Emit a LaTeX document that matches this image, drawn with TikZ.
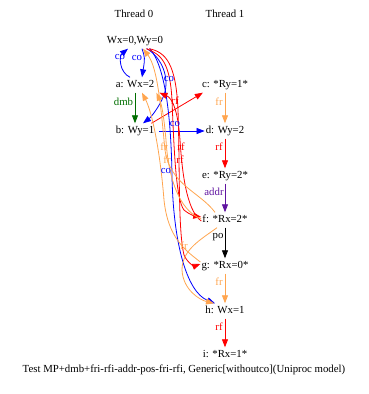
\documentclass[tikz,border=0pt]{standalone}
\usepackage{fontspec}
\setmainfont{Liberation Serif}
\usetikzlibrary{arrows.meta}
\definecolor{frc}{RGB}{255,165,79}
\definecolor{dmbc}{RGB}{0,110,0}
\definecolor{addrc}{RGB}{95,20,160}
\begin{document}
\begin{tikzpicture}[x=1pt,y=-1pt,
  font=\fontsize{10.8}{12}\selectfont,
  ev/.style={inner xsep=1pt, inner ysep=3pt, text height=7pt, text depth=2pt},
  lab/.style={inner sep=0pt},
  edge/.style={line width=0.8pt, -{Triangle[length=8pt,width=6pt]}},
  coe/.style={edge, draw=blue},
  rfe/.style={edge, draw=red},
  fre/.style={edge, draw=frc},
  dmbe/.style={edge, draw=dmbc},
  addre/.style={edge, draw=addrc},
  poe/.style={edge, draw=black}]
\useasboundingbox (0,0) rectangle (369,394);
% thread titles
\node[lab] (t0) at (134,14) {Thread 0};
\node[lab] (t1) at (225,14) {Thread 1};
% events
\node[ev] (init) at (135,41) {Wx=0,Wy=0};
\node[ev] (a) at (135,85) {a: Wx=2};
\node[ev] (b) at (135,131) {b: Wy=1};
\node[ev] (c) at (225,85) {c: *Ry=1*};
\node[ev] (d) at (225,131) {d: Wy=2};
\node[ev] (e) at (225,176) {e: *Ry=2*};
\node[ev] (f) at (225,220) {f: *Rx=2*};
\node[ev] (g) at (225,266) {g: *Rx=0*};
\node[ev] (h) at (225,311) {h: Wx=1};
\node[ev] (i) at (225,355) {i: *Rx=1*};
\node[lab] (cap) at (184,370) {Test MP+dmb+fri-rfi-addr-pos-fri-rfi, Generic[withoutco](Uniproc model)};
% straight edges
\draw[dmbe] (a) -- (b);
\draw[fre] (c) -- (d);
\draw[rfe] (d) -- (e);
\draw[addre] (e) -- (f);
\draw[poe] (f) -- (g);
\draw[fre] (g) -- (h);
\draw[rfe] (h) -- (i);
\draw[coe] ([xshift=4pt]b.east) -- (d.west);
\draw[rfe] ([xshift=-4pt]b.north east) -- ([xshift=2pt]c.south west);
% co curves
\draw[coe] ([xshift=-5pt]a.north) .. controls (119,72) and (119,56) .. ([xshift=-7pt]init.south);
\draw[coe] ([xshift=7pt]init.south) .. controls (145,58) .. ([xshift=7pt]a.north);
\draw[coe] ([xshift=12pt]init.south) .. controls (162,58) and (170,78) .. (164,95) .. controls (159,108) and (150,118) .. ([xshift=8pt]b.north);
\draw[coe] ([xshift=15pt]init.south) .. controls (166,68) and (171,120) .. (172,175) .. controls (173,240) and (186,292) .. ([xshift=-10pt]h.north);
% rf curves
\draw[rfe] ([xshift=11pt]init.south) .. controls (162,54) and (170,64) .. (172,100) .. controls (174,150) and (176,200) .. (184,210) .. controls (190,215) and (195,216) .. ([yshift=3pt]f.west);
\draw[rfe] ([xshift=14pt]init.south) .. controls (166,52) and (176,64) .. (178,110) .. controls (180,170) and (178,230) .. (184,255) .. controls (188,264) and (195,266) .. ([yshift=2pt]g.west);
\draw[rfe] ([yshift=-1pt]f.west) .. controls (186,210) and (182,170) .. (180,140) .. controls (178,110) and (172,98) .. ([xshift=4pt]a.south east);
% fr curves
\draw[fre] ([xshift=-10pt]f.north) .. controls (200,192) and (170,185) .. (165,150) .. controls (161,110) and (158,68) .. ([xshift=8pt]init.south);
\draw[fre] ([yshift=1pt]f.west) .. controls (178,210) and (168,175) .. (166,140) .. controls (164,118) and (162,105) .. ([xshift=1pt]a.south east);
\draw[fre] ([yshift=4pt]g.west) .. controls (185,250) and (168,238) .. (164,200) .. controls (160,150) and (152,112) .. ([xshift=7pt]a.south);
\draw[fre] ([xshift=-8pt]f.south) .. controls (200,240) and (182,250) .. (182,270) .. controls (183,290) and (200,300) .. ([xshift=-11pt]h.north);
% labels
\node[lab,text=blue] (l1) at (120,57) {co};
\node[lab,text=blue] (l2) at (137,58) {co};
\node[lab,text=blue] (l3) at (169,79) {co};
\node[lab,text=blue] (l4) at (175,124) {co};
\node[lab,text=blue] (l5) at (166,171) {co};
\node[lab,text=dmbc] (l6) at (123.5,102) {dmb};
\node[lab,text=frc] (l7) at (219,102) {fr};
\node[lab,text=red] (l8) at (219,147) {rf};
\node[lab,text=addrc] (l9) at (214,192) {addr};
\node[lab] (l10) at (218,237) {po};
\node[lab,text=frc] (l11) at (219,282) {fr};
\node[lab,text=red] (l12) at (219,327) {rf};
\node[lab,text=red] (l13) at (175,101) {rf};
\node[lab,text=frc] (l14) at (164,147) {fr};
\node[lab,text=red] (l15) at (181,147) {rf};
\node[lab,text=frc] (l16) at (167,160) {fr};
\node[lab,text=red] (l17) at (180,160) {rf};
\node[lab,text=frc] (l18) at (184,246) {fr};
\end{tikzpicture}
\end{document}
